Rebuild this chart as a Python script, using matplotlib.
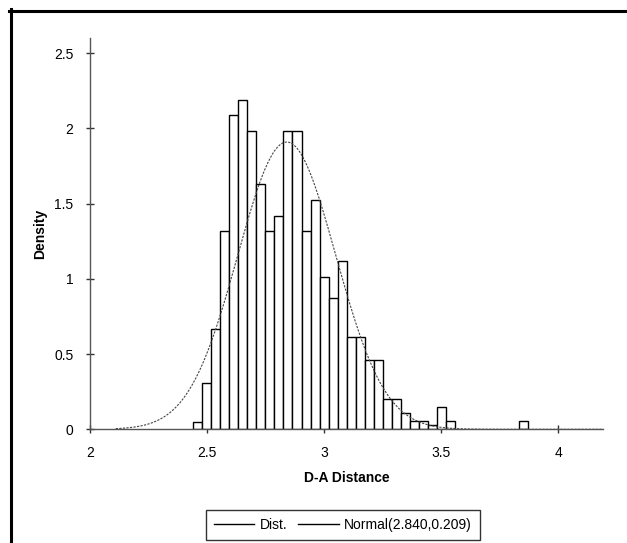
import matplotlib
matplotlib.use("Agg")
import matplotlib.pyplot as plt
from matplotlib.lines import Line2D
import numpy as np

plt.rcParams['font.family'] = ['Liberation Sans', 'DejaVu Sans']

# histogram (density)
bin_start = 2.439
bin_width = 0.03866
density = [0.05, 0.31, 0.665, 1.32, 2.09, 2.185, 1.985, 1.63, 1.32, 1.42,
           1.985, 1.985, 1.32, 1.525, 1.015, 0.873, 1.12, 0.616, 0.616, 0.46,
           0.46, 0.20, 0.20, 0.106, 0.053, 0.053, 0.026, 0.15, 0.053, 0.0,
           0.0, 0.0, 0.0, 0.0, 0.0, 0.0, 0.053]

# fitted normal
mu = 2.840
sigma = 0.209
curve_from = 2.11
curve_to = 4.19

x_ticks = [2, 2.5, 3, 3.5, 4]
y_ticks = [0, 0.5, 1, 1.5, 2, 2.5]

W, H = 627, 543
fig = plt.figure(figsize=(W / 100, H / 100), dpi=100)
ax = fig.add_axes([90 / W, 1 - 429.3 / H, (603 - 90) / W, (429.3 - 38) / H])

lefts = [bin_start + i * bin_width for i in range(len(density))]
keep = [i for i, d in enumerate(density) if d > 0]
ax.bar([lefts[i] for i in keep], [density[i] for i in keep], width=bin_width,
       align='edge', facecolor='white', edgecolor='black', linewidth=1.0, zorder=2)

xs = np.linspace(curve_from, curve_to, 600)
ys = np.exp(-0.5 * ((xs - mu) / sigma) ** 2) / (sigma * np.sqrt(2 * np.pi))
ax.plot(xs, ys, color='#444444', linewidth=0.8, linestyle=(0, (2, 1.2)), zorder=3)

ax.set_xlim(2, 4.19)
ax.set_ylim(0, 2.6)
ax.set_xticks(x_ticks)
ax.set_xticklabels(['2', '2.5', '3', '3.5', '4'])
ax.set_yticks(y_ticks)
ax.set_yticklabels(['0', '0.5', '1', '1.5', '2', '2.5'])

for s in ['top', 'right']:
    ax.spines[s].set_visible(False)
for s in ['left', 'bottom']:
    ax.spines[s].set_color('#555555')
    ax.spines[s].set_linewidth(1.0)
ax.tick_params(direction='inout', length=6, width=1, color='#333333',
               labelsize=10, pad=9)

ax.set_ylabel('Density', fontsize=10, fontweight='bold')
ax.yaxis.set_label_coords((40 - 90) / (603 - 90), 0.5)
ax.set_xlabel('D-A Distance', fontsize=10, fontweight='bold')
ax.xaxis.set_label_coords(0.5, -(478 - 429.3) / (429.3 - 38))
ax.xaxis.label.set_va('center')
ax.yaxis.label.set_va('center')

handles = [Line2D([], [], color='black', linewidth=1),
           Line2D([], [], color='black', linewidth=1)]
leg = fig.legend(handles, ['Dist.', 'Normal(2.840,0.209)'], ncol=2,
                 loc='center', bbox_to_anchor=(343 / W, 1 - 525 / H),
                 fontsize=10, frameon=True, fancybox=False, handlelength=2.9,
                 handletextpad=0.4, columnspacing=0.8, borderpad=0.55,
                 borderaxespad=0)
leg.get_frame().set_edgecolor('black')
leg.get_frame().set_linewidth(1.0)

# outer frame (top and left edges only)
fig.add_artist(Line2D([9 / W, 1], [1 - 10.5 / H, 1 - 10.5 / H],
                      transform=fig.transFigure, color='black', linewidth=2.2))
fig.add_artist(Line2D([10.5 / W, 10.5 / W], [0, 1 - 9 / H],
                      transform=fig.transFigure, color='black', linewidth=2.2))

fig.savefig('out.png', dpi=100)
